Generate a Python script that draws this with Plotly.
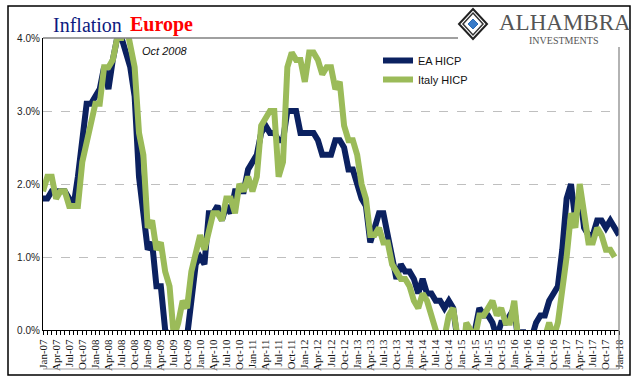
import plotly.graph_objects as go

# Monthly data, Jan-07 .. Jan-18 (EA) and Jan-07 .. Dec-17 (Italy), % y/y
ea_hicp = [
    1.8, 1.8, 1.9, 1.9, 1.9, 1.9, 1.8, 1.7, 2.1, 2.6, 3.1, 3.1,   # 2007
    3.2, 3.3, 3.6, 3.3, 3.7, 4.0, 4.0, 3.8, 3.6, 3.2, 2.1, 1.6,   # 2008
    1.1, 1.2, 0.6, 0.6, 0.0, -0.1, -0.6, -0.2, -0.3, -0.1, 0.5, 0.9,  # 2009
    1.0, 0.9, 1.6, 1.6, 1.7, 1.5, 1.7, 1.6, 1.9, 1.9, 1.9, 2.2,   # 2010
    2.3, 2.4, 2.7, 2.8, 2.7, 2.7, 2.6, 2.6, 3.0, 3.0, 3.0, 2.7,   # 2011
    2.7, 2.7, 2.7, 2.6, 2.4, 2.4, 2.4, 2.6, 2.6, 2.5, 2.2, 2.2,   # 2012
    2.0, 1.8, 1.7, 1.2, 1.4, 1.6, 1.6, 1.3, 1.1, 0.7, 0.9, 0.8,   # 2013
    0.8, 0.7, 0.5, 0.7, 0.5, 0.5, 0.4, 0.4, 0.3, 0.4, 0.3, -0.2,  # 2014
    -0.6, -0.3, -0.1, 0.0, 0.3, 0.2, 0.2, 0.1, -0.1, 0.1, 0.1, 0.2,  # 2015
    0.3, -0.2, 0.0, -0.2, -0.1, 0.1, 0.2, 0.2, 0.4, 0.5, 0.6, 1.1,  # 2016
    1.8, 2.0, 1.5, 1.9, 1.4, 1.3, 1.3, 1.5, 1.5, 1.4, 1.5, 1.4,   # 2017
    1.3,                                                          # 2018
]
italy_hicp = [
    1.9, 2.1, 2.1, 1.8, 1.9, 1.9, 1.7, 1.7, 1.7, 2.3, 2.6, 2.8,   # 2007
    3.1, 3.1, 3.6, 3.6, 3.7, 4.0, 4.0, 4.2, 3.9, 3.6, 2.7, 2.4,   # 2008
    1.4, 1.5, 1.1, 1.2, 0.8, 0.6, -0.1, 0.1, 0.4, 0.3, 0.8, 1.1,  # 2009
    1.3, 1.1, 1.4, 1.6, 1.6, 1.5, 1.8, 1.8, 1.6, 2.0, 1.9, 2.1,   # 2010
    1.9, 2.1, 2.8, 2.9, 3.0, 3.0, 2.1, 2.3, 3.6, 3.8, 3.7, 3.7,   # 2011
    3.4, 3.8, 3.8, 3.7, 3.5, 3.6, 3.6, 3.3, 3.4, 2.8, 2.6, 2.6,   # 2012
    2.4, 2.0, 1.8, 1.3, 1.3, 1.4, 1.2, 1.2, 0.9, 0.8, 0.7, 0.7,   # 2013
    0.6, 0.4, 0.3, 0.5, 0.4, 0.2, 0.0, -0.2, -0.1, 0.2, 0.3, -0.1,  # 2014
    -0.5, 0.1, 0.0, -0.1, 0.2, 0.2, 0.3, 0.4, 0.2, 0.3, 0.1, 0.1,  # 2015
    0.4, -0.2, -0.2, -0.4, -0.3, -0.2, -0.2, -0.1, 0.1, -0.1, 0.1, 0.5,  # 2016
    1.0, 1.6, 1.4, 2.0, 1.6, 1.2, 1.2, 1.4, 1.3, 1.1, 1.1, 1.0,   # 2017
]
month_names = ["Jan", "Feb", "Mar", "Apr", "May", "Jun",
               "Jul", "Aug", "Sep", "Oct", "Nov", "Dec"]
years = ["07", "08", "09", "10", "11", "12", "13", "14", "15", "16", "17", "18"]
tick_months = ["Jan", "Apr", "Jul", "Oct"]

months = [f"{m}-{y}" for y in years for m in month_names][:len(ea_hicp)]
x_idx = list(range(len(months)))
tick_vals = [i for i, m in enumerate(months) if m[:3] in tick_months]
tick_text = [months[i] for i in tick_vals]

NAVY = "#0B2160"
GREEN = "#9BBB59"

fig = go.Figure()
fig.add_trace(go.Scatter(x=x_idx, y=ea_hicp, mode="lines", name="EA HICP",
                         line=dict(color=NAVY, width=6, shape="linear")))
fig.add_trace(go.Scatter(x=x_idx[:len(italy_hicp)], y=italy_hicp, mode="lines",
                         name="Italy HICP",
                         line=dict(color=GREEN, width=6, shape="linear")))

L, R, T, B = 43, 22, 38, 51
W, H = 641, 381
pw, ph = W - L - R, H - T - B


def px(xp):
    return (xp - L) / pw


def py(yp):
    return (H - B - yp) / ph


fig.update_layout(
    width=W, height=H,
    margin=dict(l=L, r=R, t=T, b=B, autoexpand=False),
    paper_bgcolor="white", plot_bgcolor="white",
    showlegend=True,
    legend=dict(x=px(378), y=py(46), xanchor="left", yanchor="top",
                font=dict(family="Arial, Liberation Sans", size=11, color="#111"),
                bgcolor="rgba(0,0,0,0)", itemwidth=30, tracegroupgap=6),
    xaxis=dict(range=[0, len(ea_hicp) - 1], tickvals=tick_vals, ticktext=tick_text,
               tickangle=-90, ticks="outside", ticklen=4, tickcolor="#000",
               showline=True, linecolor="#000", linewidth=1,
               showgrid=False, zeroline=False, automargin=False,
               minor=dict(dtick=1, tick0=0, ticks="outside", ticklen=4, tickcolor="#000"),
               tickfont=dict(family="Liberation Serif, Times New Roman", size=11, color="#111")),
    yaxis=dict(range=[0, 4], tickvals=[0, 1, 2, 3, 4],
               ticktext=["0.0%", "1.0%", "2.0%", "3.0%", "4.0%"],
               showline=True, linecolor="#000", linewidth=1.2, automargin=False,
               ticks="", showgrid=True, gridcolor="#BFBFBF", griddash="dash",
               gridwidth=1, zeroline=False,
               tickfont=dict(family="Arial, Liberation Sans", size=10, color="#222")),
)

shapes = [
    # outer frame
    dict(type="rect", xref="paper", yref="paper", x0=px(8), x1=px(630),
         y0=py(375), y1=py(6), line=dict(color="#000", width=1.5)),
    # top solid border of plot
    dict(type="line", xref="paper", yref="paper", x0=0, x1=px(458),
         y0=1, y1=1, line=dict(color="#808080", width=1.5)),
    # right border
    dict(type="line", xref="paper", yref="paper", x0=1, x1=1,
         y0=py(369), y1=py(47), line=dict(color="#808080", width=1.2)),
    # bottom border below labels
    dict(type="line", xref="paper", yref="paper", x0=0, x1=1,
         y0=py(369), y1=py(369), line=dict(color="#A0A0A0", width=1.2)),
    # logo diamond (outer)
    dict(type="path", xref="paper", yref="paper",
         path=f"M {px(473)} {py(9)} L {px(487)} {py(24)} L {px(473)} {py(39)} L {px(459)} {py(24)} Z",
         line=dict(color="#222", width=2), fillcolor="white"),
    dict(type="path", xref="paper", yref="paper",
         path=f"M {px(473)} {py(13)} L {px(483)} {py(24)} L {px(473)} {py(35)} L {px(463)} {py(24)} Z",
         line=dict(color="#333", width=1.5), fillcolor="white"),
    dict(type="path", xref="paper", yref="paper",
         path=f"M {px(473)} {py(19)} L {px(478)} {py(24)} L {px(473)} {py(29)} L {px(468)} {py(24)} Z",
         line=dict(color="#2E6DB4", width=1), fillcolor="#3A7CC8"),
]
fig.update_layout(shapes=shapes)

annotations = [
    dict(text="Inflation", xref="paper", yref="paper", x=px(87), y=py(25),
         xanchor="center", yanchor="middle", showarrow=False,
         font=dict(family="Liberation Serif, Times New Roman", size=20, color="#0D1A80")),
    dict(text="<b>Europe</b>", xref="paper", yref="paper", x=px(161), y=py(25),
         xanchor="center", yanchor="middle", showarrow=False,
         font=dict(family="Liberation Serif, Times New Roman", size=20, color="#FF0000")),
    dict(text="<i>Oct 2008</i>", xref="paper", yref="paper", x=px(140), y=py(51),
         xanchor="left", yanchor="middle", showarrow=False,
         font=dict(family="Arial, Liberation Sans", size=11, color="#111")),
    dict(text="ALHAMBRA", xref="paper", yref="paper", x=px(497), y=py(23),
         xanchor="left", yanchor="middle", showarrow=False,
         font=dict(family="Liberation Serif, Times New Roman", size=23, color="#555")),
    dict(text="INVESTMENTS", xref="paper", yref="paper", x=px(563), y=py(40),
         xanchor="center", yanchor="middle", showarrow=False,
         font=dict(family="Liberation Serif, Times New Roman", size=10, color="#555")),
]
fig.update_layout(annotations=annotations)

fig.write_html("out.html", config={"displayModeBar": False},
               post_script="document.body.style.margin='0';document.body.style.padding='0';")
